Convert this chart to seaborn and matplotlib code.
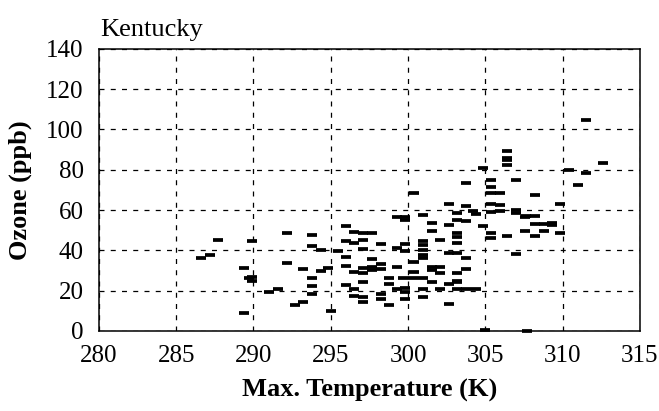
import matplotlib
matplotlib.use("Agg")
import matplotlib.pyplot as plt
import seaborn as sns
import pandas as pd

temperature = [
    287.72, 287.18, 286.58, 289.37, 289.72, 289.37,
    289.93, 289.93, 289.93, 291.00, 291.59, 292.15, 292.15, 292.66, 293.22, 293.22,
    293.80, 293.80, 293.80, 293.80, 293.80, 294.34, 294.34, 294.81, 295.05,
    295.45, 296.01, 296.01, 296.01, 296.01, 296.01, 296.48, 296.48, 296.48, 296.48, 296.48,
    297.09, 297.09, 297.09, 297.09, 297.09, 297.09, 297.09, 297.09,
    297.66, 297.66, 297.66, 297.66, 298.24, 298.24, 298.24, 298.24, 298.24,
    298.76, 298.76, 298.76, 299.28, 299.28, 299.28, 299.28,
    299.81, 299.81, 299.81, 299.81, 299.81, 299.81, 299.81, 299.70,
    300.39, 300.39, 300.39, 300.30,
    300.99, 300.99, 300.99, 300.99, 300.99, 300.99, 300.99, 300.99, 300.99,
    301.53, 301.53, 301.53, 301.53, 301.53,
    302.07, 302.07, 302.07, 302.07,
    302.67, 302.67, 302.67, 302.67, 302.67,
    303.20, 303.20, 303.20, 303.20, 303.20, 303.20, 303.20, 303.20, 303.20, 303.20,
    303.73, 303.73, 303.73, 303.73, 303.73, 303.73,
    304.21, 304.37, 304.43, 304.86, 304.86, 305.00,
    305.36, 305.36, 305.36, 305.36, 305.36, 305.36, 305.36,
    305.93, 305.93, 305.93,
    306.43, 306.43, 306.43, 306.43, 306.43,
    307.01, 307.01, 307.01, 307.01, 307.59, 307.59, 307.65, 307.69,
    308.19, 308.19, 308.19, 308.19, 308.77, 308.77,
    309.33, 309.33, 309.84, 309.84, 310.44, 310.98, 311.52, 311.52, 312.59,
]
ozone = [
    45.0, 37.8, 36.1, 31.0, 26.1, 8.8,
    44.7, 26.8, 24.8, 19.5, 20.6, 48.4, 33.5, 12.9, 14.5, 30.5,
    47.4, 42.1, 26.1, 22.4, 18.3, 40.0, 29.5, 31.0, 10.0,
    39.8, 52.1, 44.6, 36.5, 32.3, 22.8, 48.9, 43.4, 29.4, 20.6, 17.5,
    48.7, 45.0, 40.4, 31.0, 28.6, 24.4, 16.7, 14.2,
    48.4, 35.6, 31.8, 30.2, 43.1, 33.2, 30.5, 18.3, 15.7,
    26.1, 23.3, 12.9, 56.3, 40.9, 31.5, 20.6,
    56.6, 55.0, 42.9, 39.8, 21.1, 19.5, 15.7, 26.1,
    68.5, 34.3, 29.4, 26.1,
    57.4, 44.7, 42.6, 40.1, 37.6, 36.0, 20.6, 16.7, 26.1,
    53.8, 49.7, 31.8, 30.2, 24.4,
    45.0, 31.5, 28.9, 20.6,
    62.9, 52.5, 38.8, 23.3, 13.4,
    58.6, 55.0, 48.4, 46.5, 43.7, 38.6, 28.6, 25.0, 20.6, 24.4,
    73.6, 61.9, 54.6, 36.0, 30.5, 20.6,
    59.6, 20.6, 57.8, 81.0, 52.0, 0.3,
    74.8, 71.4, 68.5, 62.9, 59.1, 48.7, 45.9,
    68.5, 62.4, 59.4,
    89.3, 86.0, 84.7, 82.2, 47.0,
    74.8, 60.2, 58.6, 38.1, 56.3, 49.5, 56.9, 0.0,
    67.3, 56.9, 53.3, 47.0, 53.0, 49.5,
    53.8, 52.5, 62.9, 48.4, 80.0, 72.3, 104.5, 78.6, 83.5,
]
x_ticks = [280, 285, 290, 295, 300, 305, 310, 315]
y_ticks = [0, 20, 40, 60, 80, 100, 120, 140]

df = pd.DataFrame({"Max. Temperature (K)": temperature, "Ozone (ppb)": ozone})

sns.set_style("white")
plt.rcParams["font.family"] = ["Liberation Serif", "DejaVu Serif"]
plt.rcParams["text.color"] = "black"
plt.rcParams["axes.labelcolor"] = "black"

fig = plt.figure(figsize=(6.59, 4.11), dpi=100)
ax = fig.add_axes([0.150, 0.195, 0.821, 0.686])

sns.scatterplot(data=df, x="Max. Temperature (K)", y="Ozone (ppb)", ax=ax,
                marker="_", s=44, linewidth=2.7, color="black", zorder=3,
                clip_on=False)

ax.set_xlim(280, 315)
ax.set_ylim(0, 140)
ax.set_xticks(x_ticks)
ax.set_yticks(y_ticks)
ax.grid(True, color="black", linestyle=(0, (4, 5)), linewidth=0.9)
for s in ax.spines.values():
    s.set_color("black")
    s.set_linewidth(1.1)
ax.tick_params(axis="both", labelsize=18, colors="black", direction="inout",
               length=6, width=1)
ax.tick_params(axis="x", pad=7)
ax.tick_params(axis="y", pad=8)
ax.set_xlabel("Max. Temperature (K)", fontsize=19, fontweight="bold", labelpad=9,
              color="black")
ax.set_ylabel("Ozone (ppb)", fontsize=19, fontweight="bold", labelpad=10,
              color="black")
fig.text(0.152, 0.927, "Kentucky", fontsize=19, ha="left", va="center",
         color="black")

fig.savefig("out.png", dpi=100, facecolor="white")
